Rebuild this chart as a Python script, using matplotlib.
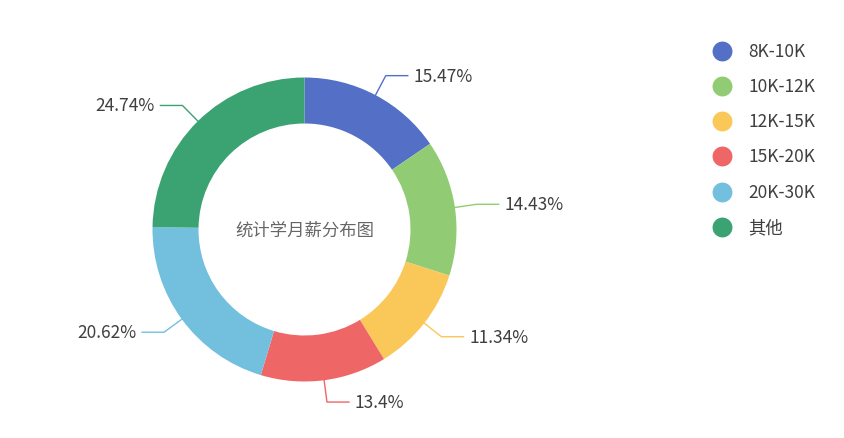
import matplotlib.pyplot as plt
import numpy as np

plt.rcParams['font.family'] = ['Noto Sans CJK SC', 'DejaVu Sans']

# salary distribution (percent)
categories = ['8K-10K', '10K-12K', '12K-15K', '15K-20K', '20K-30K', '其他']
shares = [15.47, 14.43, 11.34, 13.4, 20.62, 24.74]
labels = ['15.47%', '14.43%', '11.34%', '13.4%', '20.62%', '24.74%']
colors = ['#5470c6', '#91cc75', '#fac858', '#ee6666', '#73c0de', '#3ba272']
title = '统计学月薪分布图'

W, H = 844, 439
fig = plt.figure(figsize=(W / 100, H / 100), dpi=100)
ax = fig.add_axes([0, 0, 1, 1])

cx, cy = 304.5, H - 230.5
r_out, ring = 152, 46

wedges, _ = ax.pie(shares, center=(cx, cy), radius=r_out, startangle=90,
                   counterclock=False, colors=colors,
                   wedgeprops=dict(width=ring, linewidth=0))

# pie() resets the limits, so set them afterwards
ax.set_xlim(0, W)
ax.set_ylim(0, H)
ax.set_aspect('equal')
ax.axis('off')

# label lines: radial piece then horizontal piece
L1, L2, gap = 22, 22, 6
for w, lab, col in zip(wedges, labels, colors):
    mid = np.deg2rad((w.theta1 + w.theta2) / 2)
    c, s = np.cos(mid), np.sin(mid)
    x0, y0 = cx + r_out * c, cy + r_out * s
    x1, y1 = cx + (r_out + L1) * c, cy + (r_out + L1) * s
    side = 1 if c >= 0 else -1
    x2 = x1 + side * L2
    ax.plot([x0, x1, x2], [y0, y1, y1], color=col, lw=1)
    ax.text(x2 + side * gap, y1, lab, ha='left' if side > 0 else 'right',
            va='center', fontsize=12.5, color='#3f3f3f')

ax.text(cx, cy, title, ha='center', va='center', fontsize=12.5, color='#666666')

# legend
lx, ly0, dy = 722, H - 51.5, 35.3
for i, (name, col) in enumerate(zip(categories, colors)):
    y = ly0 - i * dy
    ax.scatter([lx], [y], s=205, color=col, linewidths=0)
    ax.text(lx + 26, y, name, ha='left', va='center', fontsize=12.5, color='#3f3f3f')

fig.savefig('out.png', dpi=100)
